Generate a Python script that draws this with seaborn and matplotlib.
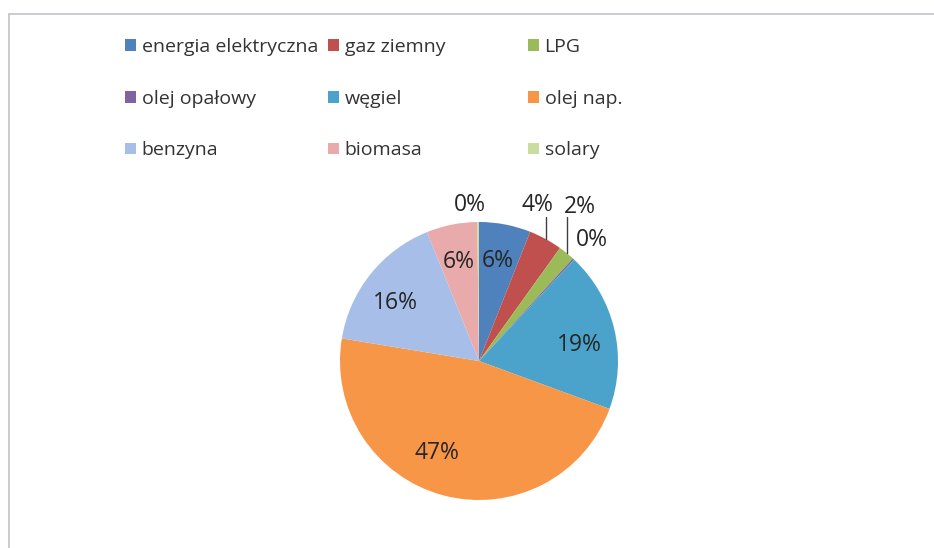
import matplotlib.pyplot as plt
import numpy as np
import seaborn as sns
from matplotlib.lines import Line2D
from matplotlib.patches import Patch

categories = [
    "energia elektryczna",
    "gaz ziemny",
    "LPG",
    "olej opałowy",
    "węgiel",
    "olej nap.",
    "benzyna",
    "biomasa",
    "solary",
]
shares = [6.0, 3.9, 1.9, 0.2, 18.6, 47.0, 16.3, 5.9, 0.2]
colors = [
    "#4F81BD",
    "#C0504D",
    "#9BBB59",
    "#8064A2",
    "#4BA3CB",
    "#F79646",
    "#A7BFE8",
    "#E8AAAA",
    "#C9DDA0",
]

sns.set_theme(style="white")
plt.rcParams["font.family"] = ["Open Sans", "DejaVu Sans"]

W, H = 934, 548
fig = plt.figure(figsize=(W / 100, H / 100), dpi=100)
fig.patch.set_facecolor("white")

# pie centre ~ (479, 361) px, radius ~139 px
cx, cy, r = 479, 361, 139
ax = fig.add_axes([(cx - r) / W, (H - cy - r) / H, 2 * r / W, 2 * r / H])
wedges, _ = ax.pie(
    shares,
    colors=colors,
    startangle=90,
    counterclock=False,
    radius=1,
    wedgeprops=dict(linewidth=0),
)
ax.set_xlim(-1, 1)
ax.set_ylim(-1, 1)
ax.set_aspect("equal")
ax.axis("off")

txt_color = "#262626"
inside = {0: 0.0, 4: -4.0, 5: -10.0, 6: 4.0, 7: 0.0}
outside = {1: (0.417, 1.12), 2: (0.727, 1.108), 3: (0.813, 0.87), 8: (-0.065, 1.12)}
leaders = [1, 2]

for i, w in enumerate(wedges):
    mid = np.deg2rad((w.theta1 + w.theta2) / 2)
    lab = "{:.0f}%".format(round(shares[i]))
    if i in inside:
        a = mid + np.deg2rad(inside[i])
        ax.text(0.73 * np.cos(a), 0.73 * np.sin(a), lab, ha="center", va="center",
                fontsize=16.5, color=txt_color)
    else:
        x, y = outside[i]
        ax.text(x, y, lab, ha="center", va="center", fontsize=16.5, color=txt_color)
    if i in leaders:
        ex, ey = np.cos(mid), np.sin(mid)
        ax.plot([ex, ex], [ey, 1.036], color="#404040", lw=1, clip_on=False)

handles = [Patch(facecolor=c, edgecolor="none") for c in colors]
col_x = [125, 328, 528]
for k in range(3):
    fig.legend(
        handles[k::3],
        categories[k::3],
        loc="upper left",
        bbox_to_anchor=(col_x[k] / W, 1 - 38 / H),
        frameon=False,
        fontsize=14,
        handlelength=0.55,
        handleheight=0.55,
        handletextpad=0.3,
        labelspacing=1.73,
        borderpad=0,
        borderaxespad=0,
        labelcolor="#333333",
    )

# chart border (only top and left visible in the crop)
fig.add_artist(Line2D([9 / W, 1], [1 - 14 / H, 1 - 14 / H], transform=fig.transFigure,
                      color="#c4c4c8", lw=1.2))
fig.add_artist(Line2D([9 / W, 9 / W], [0, 1 - 14 / H], transform=fig.transFigure,
                      color="#c4c4c8", lw=1.2))

fig.savefig("out.png", dpi=100, facecolor="white")
